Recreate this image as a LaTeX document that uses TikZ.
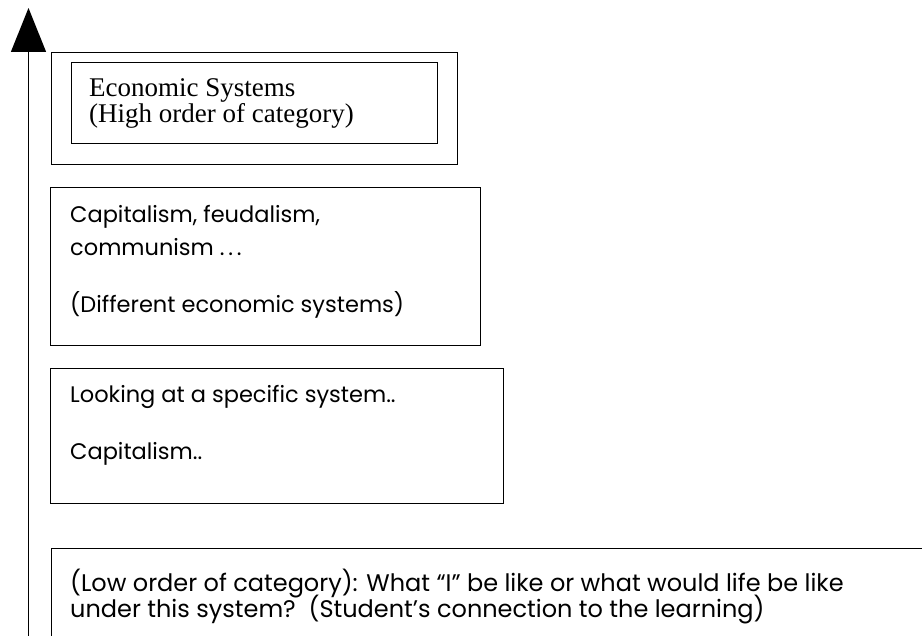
\documentclass[tikz,border=0pt]{standalone}
\usepackage{fontspec}
\setmainfont{Liberation Serif}
\newfontfamily\gothic{Poppins}
\usetikzlibrary{arrows.meta}
\usetikzlibrary{positioning}
\tikzset{level/.style={rectangle,draw=black,line width=1.3pt,anchor=north west,inner sep=0pt}}
\tikzset{gline/.style={anchor=base west,inner sep=0pt,font=\gothic\fontsize{22.5}{26}\selectfont}}
\tikzset{lowline/.style={gline,font=\gothic\fontsize{24}{28}\selectfont}}
\tikzset{sline/.style={anchor=base west,inner sep=0pt,font=\fontsize{27}{31}\selectfont}}
\tikzset{order/.style={draw=black,line width=1.4pt,-{Triangle[width=35pt,length=44pt]}}}

\begin{document}
\begin{tikzpicture}[x=1pt,y=1pt]
  \clip (0,0) rectangle (922,636);
  % the four levels, from high to low
  \node [level,minimum width=406pt,minimum height=112pt] (high) at (51,584) {};
  \node [level,minimum width=366pt,minimum height=81pt] (highin) at (71,574) {};
  \node [level,minimum width=430pt,minimum height=158pt] (systems) at (50,449) {};
  \node [level,minimum width=453pt,minimum height=135pt] (specific) at (50,268) {};
  \node [level,minimum width=880pt,minimum height=100pt] (low) at (51,88) {};
  % texts
  \node [sline] (h1) at (89,539) {Economic Systems};
  \node [sline] (h2) at (89,513) {(High order of category)};
  \node [gline] (s1) at (70,413) {Capitalism, feudalism,};
  \node [gline] (s2) at (70,380) {communism .\,.\,.};
  \node [gline] (s3) at (70,323) {(Different economic systems)};
  \node [gline] (c1) at (70,233) {Looking at a specific system..};
  \node [gline] (c2) at (70,176) {Capitalism..};
  \node [lowline] (l1) at (70,44) {(Low order of category): What “I” be like or what would life be like};
  \node [lowline] (l2) at (70,18) {under this system?\ \ (Student’s connection to the learning)};
  % the arrow up
  \coordinate (foot) at (28.5,-5);
  \coordinate (head) at (28.5,628);
  \draw [order] (foot) -- (head);
\end{tikzpicture}
\end{document}
